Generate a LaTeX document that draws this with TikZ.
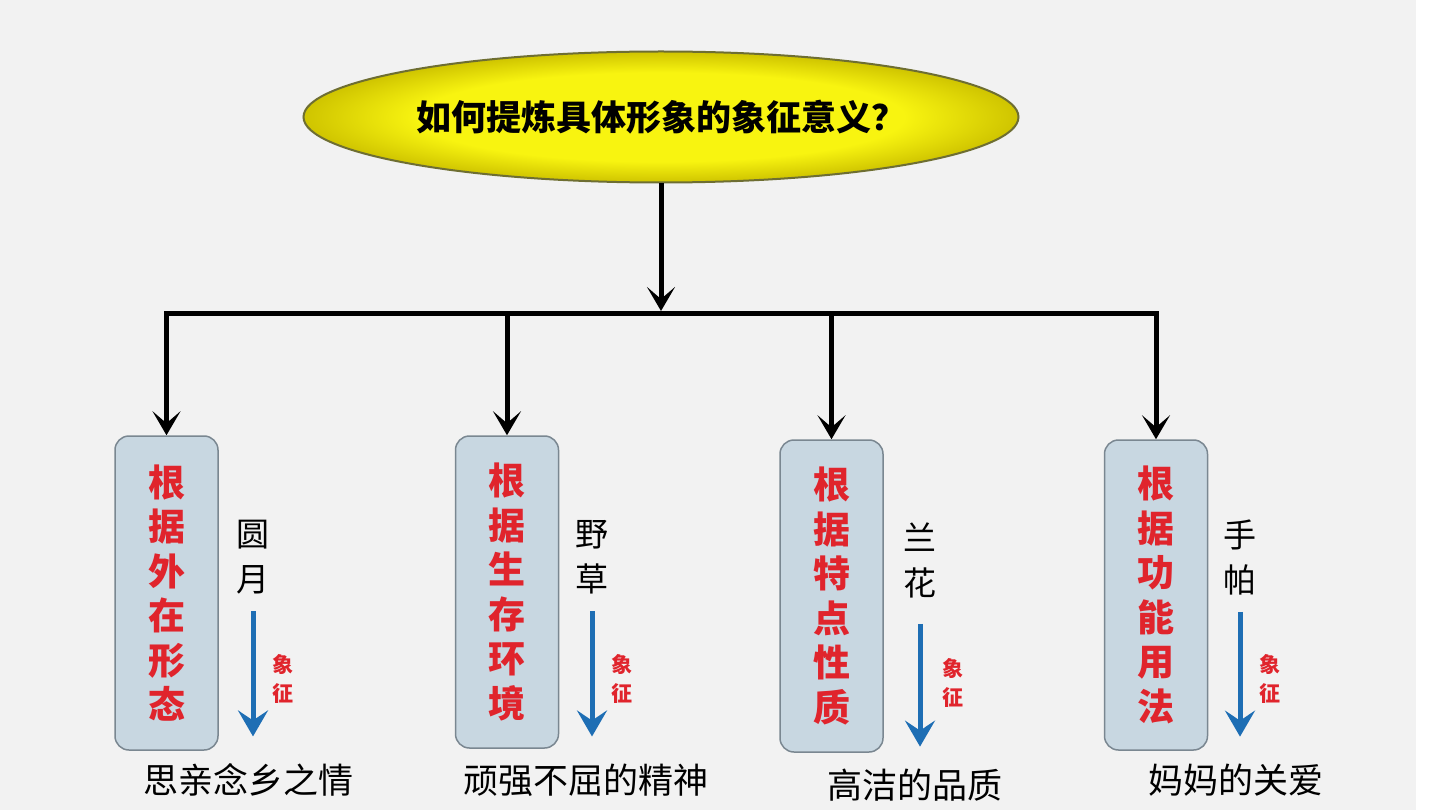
\documentclass[tikz,border=0pt]{standalone}
\usepackage{fontspec}
\setmainfont{Noto Sans CJK SC}
\usetikzlibrary{arrows.meta,shapes.geometric}
\definecolor{bggray}{HTML}{F2F2F2}
\definecolor{boxfill}{HTML}{C8D7E1}
\definecolor{boxline}{HTML}{7A8791}
\definecolor{hanred}{HTML}{E0242C}
\definecolor{symblue}{HTML}{1E6EB4}
\definecolor{ovalline}{HTML}{6E6E32}
\definecolor{ovalin}{HTML}{F8F410}
\definecolor{ovalout}{HTML}{CFC400}
\pgfdeclareradialshading{oval}{\pgfpoint{0bp}{0bp}}{color(0bp)=(ovalin); color(17bp)=(ovalin); color(25bp)=(ovalout); color(50bp)=(ovalout)}
\tikzset{
	topic/.style={ellipse, draw=ovalline, line width=2pt, inner sep=0pt,
		minimum width=715pt, minimum height=131pt, shading=oval,
		font=\bfseries\fontsize{35}{40}\selectfont},
	way/.style={draw=boxline, line width=1.5pt, fill=boxfill, rounded corners=14pt,
		minimum width=103pt, minimum height=314pt, align=center, text=hanred,
		font=\bfseries\fontsize{37}{44.5}\selectfont},
	thing/.style={align=center, inner sep=0pt, font=\fontsize{33}{45}\selectfont},
	meaning/.style={inner sep=0pt, font=\fontsize{35}{40}\selectfont},
	symb/.style={align=center, inner sep=0pt, text=hanred, font=\bfseries\fontsize{21}{29}\selectfont},
	link/.style={line width=5pt, -{Stealth[length=24pt,width=28pt,inset=12pt]}},
	symarrow/.style={draw=symblue, line width=5pt, shorten <=17pt, shorten >=27pt,
		-{Stealth[length=26pt,width=30pt,inset=10pt]}},
}
\begin{document}
\begin{tikzpicture}[x=1pt,y=-1pt]
	\useasboundingbox (0,0) rectangle (1440,810);
	\fill[bggray] (0,0) rectangle (1416,810);
	
	% 总问题
	\node[topic] (q) at (661,117) {如何提炼具体形象的象征意义？};
	
	% 四种方法
	\node[way] (w1) at (166.5,593) {根\\据\\外\\在\\形\\态};
	\node[way, minimum height=312pt] (w2) at (507,592) {根\\据\\生\\存\\环\\境};
	\node[way, minimum height=312pt] (w3) at (831.5,596) {根\\据\\特\\点\\性\\质};
	\node[way, minimum height=310pt] (w4) at (1156,595) {根\\据\\功\\能\\用\\法};
	
	\coordinate (bar) at (661,313);
	\draw[link, shorten >=2pt] (q.south) -- (bar);
	\draw[link] (bar) -| (w1.north);
	\draw[link] (bar) -| (w4.north);
	\draw[link] (w2.north |- bar) -- (w2.north);
	\draw[link] (w3.north |- bar) -- (w3.north);
	
	% 具体形象与象征意义
	\node[thing] (s1) at (253,557) {圆\\月};
	\node[thing] (s2) at (592,557) {野\\草};
	\node[thing] (s3) at (920,560) {兰\\花};
	\node[thing] (s4) at (1240,557) {手\\帕};
	
	\node[meaning] (m1) at (248,780) {思亲念乡之情};
	\node[meaning] (m2) at (586,780) {顽强不屈的精神};
	\node[meaning] (m3) at (915,785) {高洁的品质};
	\node[meaning] (m4) at (1236,780) {妈妈的关爱};
	
	\draw[symarrow] (s1.south) -- (s1.south |- m1.north) node[symb, midway, right=17pt] (t1) {象\\征};
	\draw[symarrow] (s2.south) -- (s2.south |- m2.north) node[symb, midway, right=17pt] (t2) {象\\征};
	\draw[symarrow, shorten <=26pt, shorten >=22pt] (s3.south) -- (s3.south |- m3.north) node[symb, midway, right=20pt] (t3) {象\\征};
	\draw[symarrow] (s4.south) -- (s4.south |- m4.north) node[symb, midway, right=17pt] (t4) {象\\征};
\end{tikzpicture}
\end{document}
